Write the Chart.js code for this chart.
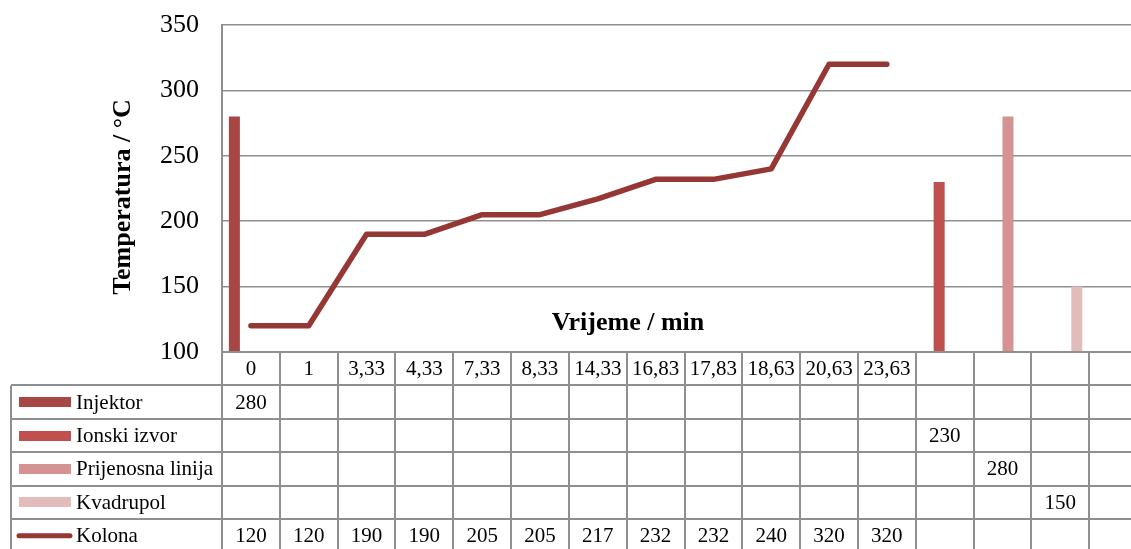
<!DOCTYPE html>
<html><head><meta charset="utf-8">
<script src="https://cdn.jsdelivr.net/npm/chart.js@4.4.1/dist/chart.umd.min.js"></script>
<style>
html,body{margin:0;padding:0;background:#fff;overflow:hidden}
#wrap{width:1131px;height:549px;overflow:hidden;position:relative}
canvas{display:block}
</style>
</head><body>
<div id="wrap"><canvas id="c" width="1150" height="549"></canvas></div>
<script>
// ---- data ----
const categories = ['0','1','3,33','4,33','7,33','8,33','14,33','16,83','17,83','18,63','20,63','23,63','','','',''];
const injektor   = [280,null,null,null,null,null,null,null,null,null,null,null,null,null,null,null];
const ionskiIzvor= [null,null,null,null,null,null,null,null,null,null,null,null,230,null,null,null];
const prijenosna = [null,null,null,null,null,null,null,null,null,null,null,null,null,280,null,null];
const kvadrupol  = [null,null,null,null,null,null,null,null,null,null,null,null,null,null,150,null];
const kolona     = [120,120,190,190,205,205,217,232,232,240,320,320,null,null,null,null];
const yTicks     = [100,150,200,250,300,350];
const seriesNames = ['Injektor','Ionski izvor','Prijenosna linija','Kvadrupol','Kolona'];
const seriesColors = ['#A64745','#C0504D','#D49392','#E2BBBB','#953735'];

const SERIF = '"Liberation Serif", "Times New Roman", serif';
const GRID = '#8f8f8f';

const tablePlugin = {
  id: 'dataTable',
  afterDraw(chart) {
    const ctx = chart.ctx;
    const x = chart.scales.x;
    const area = chart.chartArea;
    const n = categories.length;
    const catW = (area.right - area.left) / n;
    const rowH = 33.4;
    const top = area.bottom;
    const tableLeft = 11;
    const rows = [injektor, ionskiIzvor, prijenosna, kvadrupol, kolona];
    const bottom = top + rowH * (rows.length + 1);
    ctx.save();
    ctx.strokeStyle = GRID;
    ctx.lineWidth = 2;
    ctx.beginPath();
    ctx.moveTo(area.left, top); ctx.lineTo(area.right, top);
    for (let r = 1; r <= rows.length + 1; r++) {
      const yy = Math.round(top + rowH * r);
      ctx.moveTo(tableLeft, yy); ctx.lineTo(area.right, yy);
    }
    for (let i = 0; i <= n; i++) {
      const xx = Math.round(area.left + catW * i);
      ctx.moveTo(xx, top); ctx.lineTo(xx, bottom);
    }
    ctx.moveTo(tableLeft, top + rowH); ctx.lineTo(tableLeft, bottom);
    ctx.stroke();

    ctx.fillStyle = '#000';
    ctx.font = '21px ' + SERIF;
    ctx.textAlign = 'center';
    ctx.textBaseline = 'middle';
    for (let i = 0; i < n; i++) {
      ctx.fillText(categories[i], x.getPixelForValue(i), top + rowH / 2 + 1);
    }
    rows.forEach((arr, r) => {
      const cy = top + rowH * (r + 1.5) + 1;
      arr.forEach((v, i) => {
        if (v !== null && v !== undefined) {
          ctx.textAlign = 'center';
          ctx.fillText(String(v), x.getPixelForValue(i), cy);
        }
      });
      ctx.fillStyle = seriesColors[r];
      if (r < 4) {
        ctx.fillRect(19, Math.round(cy - 6), 52, 10);
      } else {
        ctx.strokeStyle = seriesColors[r];
        ctx.lineWidth = 5;
        ctx.lineCap = 'round';
        ctx.beginPath();
        ctx.moveTo(19, cy - 1); ctx.lineTo(70, cy - 1);
        ctx.stroke();
      }
      ctx.fillStyle = '#000';
      ctx.textAlign = 'left';
      ctx.fillText(seriesNames[r], 76, cy);
    });

    // axis titles
    ctx.font = 'bold 26px ' + SERIF;
    ctx.textAlign = 'center';
    ctx.textBaseline = 'middle';
    ctx.fillText('Vrijeme / min', 628, 323);
    ctx.translate(123, 197);
    ctx.rotate(-Math.PI / 2);
    ctx.fillText('Temperatura / °C', 0, 0);
    ctx.restore();
  }
};

const barDs = (label, data, color) => ({
  type: 'bar', label, data, backgroundColor: color, order: 1,
  categoryPercentage: 0.762, barPercentage: 1.0, grouped: true
});

new Chart(document.getElementById('c'), {
  data: {
    labels: categories,
    datasets: [
      {
        type: 'line', label: seriesNames[4], data: kolona,
        borderColor: seriesColors[4], borderWidth: 5.5, pointRadius: 0,
        borderCapStyle: 'round', borderJoinStyle: 'round', tension: 0,
        spanGaps: false, order: 0
      },
      barDs(seriesNames[0], injektor, seriesColors[0]),
      barDs(seriesNames[1], ionskiIzvor, seriesColors[1]),
      barDs(seriesNames[2], prijenosna, seriesColors[2]),
      barDs(seriesNames[3], kvadrupol, seriesColors[3])
    ]
  },
  options: {
    responsive: false,
    animation: false,
    layout: { padding: { left: 0, right: 3, top: 25, bottom: 197 } },
    plugins: { legend: { display: false }, tooltip: { enabled: false } },
    scales: {
      x: { type: 'category', display: false, offset: true },
      y: {
        min: 100, max: 350,
        afterBuildTicks(scale) { scale.ticks = yTicks.map(v => ({ value: v })); },
        afterFit(scale) { scale.width = 222; scale.paddingTop = 0; scale.paddingBottom = 0; },
        ticks: { color: '#000', font: { family: SERIF, size: 26 }, padding: 23 },
        grid: { color: GRID, lineWidth: 1.5, drawTicks: false },
        border: { display: true, color: GRID, width: 2 },
        title: { display: false }
      }
    }
  },
  plugins: [tablePlugin]
});
</script>
</body></html>
